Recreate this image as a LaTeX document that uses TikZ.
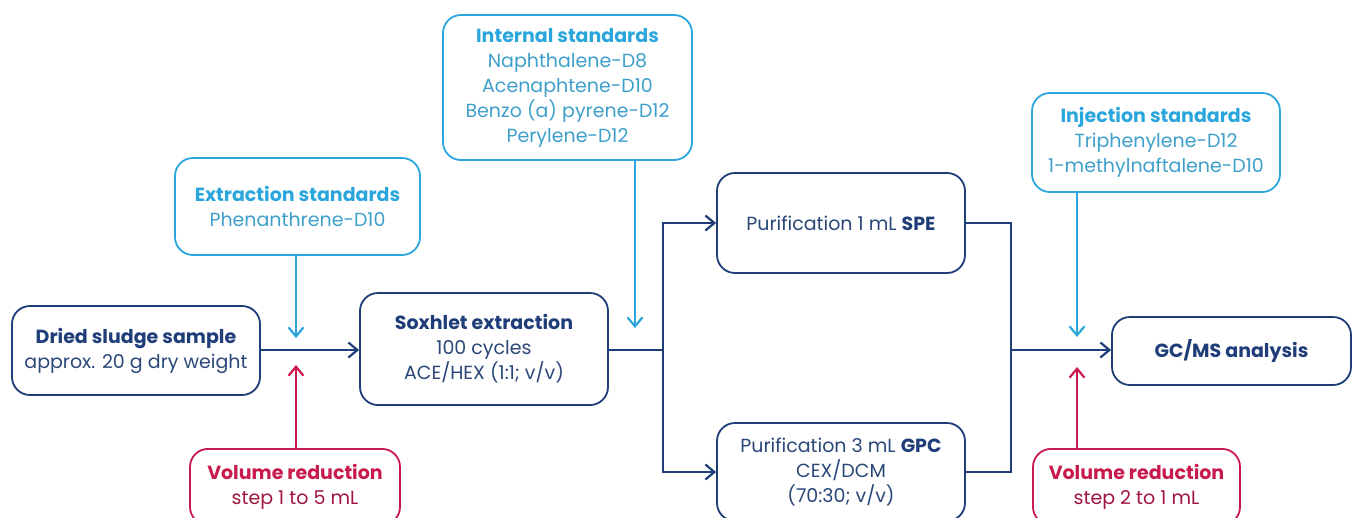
\documentclass[tikz,border=0pt]{standalone}
\usepackage{fontspec}
\setmainfont{Poppins}
\usetikzlibrary{arrows.meta}
\definecolor{navy}{HTML}{1F3D78}
\definecolor{navytext}{HTML}{2A4778}
\definecolor{lblue}{HTML}{2AA6DC}
\definecolor{ltext}{HTML}{3F9FCB}
\definecolor{crim}{HTML}{C81A4C}
\tikzset{
  box/.style={draw, line width=1.8pt, rounded corners=18pt, align=center, inner sep=0pt, font=\fontsize{19}{25}\selectfont},
  mainbox/.style={box, draw=navy, text=navytext},
  stdbox/.style={box, draw=lblue, text=ltext},
  redbox/.style={box, draw=crim, text=crim!80!black},
  flow/.style={draw=navy, line width=2.2pt},
  arr/.style={-{Straight Barb[length=9pt,width=15pt,line width=2.2pt]}},
}
\begin{document}
\begin{tikzpicture}[x=1pt,y=-1pt]
\useasboundingbox (0,0) rectangle (1352,517);
% main boxes
\node[mainbox, minimum width=248pt, minimum height=89pt] (dried) at (136,350.5)
  {{\bfseries\color{navy}Dried sludge sample}\\approx. 20 g dry weight};
\node[mainbox, minimum width=248pt, minimum height=112pt] (sox) at (484,349)
  {{\bfseries\color{navy}Soxhlet extraction}\\100 cycles\\ACE/HEX (1:1; v/v)};
\node[mainbox, minimum width=248pt, minimum height=100pt] (spe) at (841,223)
  {Purification 1 mL {\bfseries\color{navy}SPE}};
\node[mainbox, minimum width=248pt, minimum height=98pt] (gpc) at (841,472)
  {Purification 3 mL {\bfseries\color{navy}GPC}\\CEX/DCM\\(70:30; v/v)};
\node[mainbox, minimum width=239pt, minimum height=68pt] (gcms) at (1231.5,351)
  {{\bfseries\color{navy}GC/MS analysis}};
% standards boxes
\node[stdbox, minimum width=245pt, minimum height=97pt] (ext) at (297.5,206.5)
  {{\bfseries\color{lblue}Extraction standards}\\Phenanthrene-D10};
\node[stdbox, minimum width=249pt, minimum height=145pt] (int) at (567.5,87.5)
  {{\bfseries\color{lblue}Internal standards}\\Naphthalene-D8\\Acenaphtene-D10\\Benzo (a) pyrene-D12\\Perylene-D12};
\node[stdbox, minimum width=248pt, minimum height=99pt] (inj) at (1156,142.5)
  {{\bfseries\color{lblue}Injection standards}\\Triphenylene-D12\\1-methylnaftalene-D10};
% volume reduction boxes
\node[redbox, minimum width=210pt, minimum height=76pt, anchor=north] (vol1) at (295,448)
  {{\bfseries\color{crim}Volume reduction}\\step 1 to 5 mL};
\node[redbox, minimum width=207pt, minimum height=76pt, anchor=north] (vol2) at (1136.5,448)
  {{\bfseries\color{crim}Volume reduction}\\step 2 to 1 mL};
% coordinates
\coordinate (j1) at (296,350);
\coordinate (j1t) at (296,338);
\coordinate (j1b) at (296,365);
\coordinate (sp) at (663,350);
\coordinate (it) at (635,328);
\coordinate (sq) at (1011,350);
\coordinate (jt) at (1077,337);
\coordinate (jb) at (1077,367);
% connectors
\draw[flow, arr] (dried.east |- j1) -- (sox.west |- j1);
\draw[draw=lblue, line width=2.2pt, arr] (ext.south -| j1t) -- (j1t);
\draw[draw=crim, line width=2.2pt, arr] (vol1.north -| j1b) -- (j1b);
\draw[flow] (sox.east |- sp) -- (sp);
\draw[flow, arr] (sp) |- (spe.west);
\draw[flow, arr] (sp) |- (gpc.west);
\draw[draw=lblue, line width=2.2pt, arr] (int.south -| it) -- (it);
\draw[flow] (spe.east) -| (sq);
\draw[flow] (gpc.east) -| (sq);
\draw[flow, arr] (sq) -- (gcms.west |- sq);
\draw[draw=lblue, line width=2.2pt, arr] (inj.south -| jt) -- (jt);
\draw[draw=crim, line width=2.2pt, arr] (vol2.north -| jb) -- (jb);
\end{tikzpicture}
\end{document}
